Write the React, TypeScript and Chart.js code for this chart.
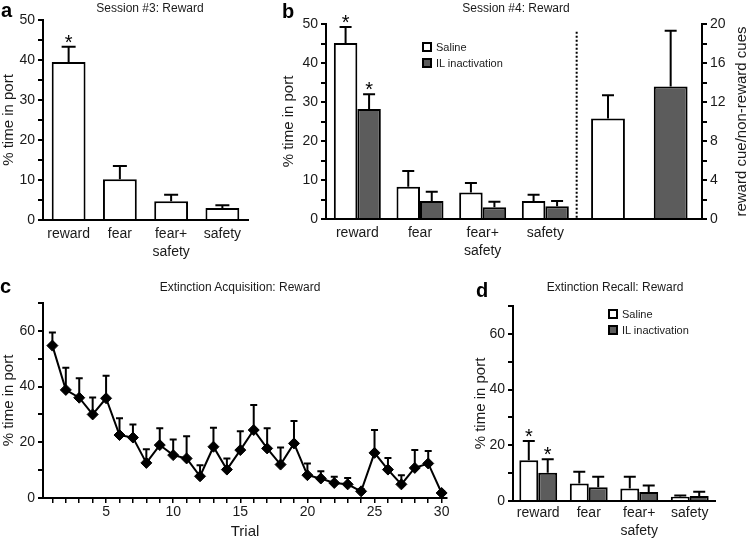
import React, { useEffect, useRef } from 'react';
import { Chart, registerables } from 'chart.js';

Chart.register(...registerables);

const FONT = '"Liberation Sans", Arial, Helvetica, sans-serif';
const INK = '#1a1a1a';
const IL_GREY = '#5c5c5c';

// ---------------- data ----------------
const cueCategories = ['reward', 'fear', ['fear+', 'safety'], 'safety'];

// a: Session #3
const session3Mean = [39.5, 10.2, 4.7, 3.0];
const session3Sem = [3.8, 3.3, 1.6, 0.7];
const session3Star = [true, false, false, false];

// b: Session #4
const session4SalineMean = [45.1, 8.3, 6.8, 4.6];
const session4SalineSem = [4.1, 4.0, 2.4, 1.6];
const session4SalineStar = [true, false, false, false];
const session4IlMean = [28.2, 4.6, 3.0, 3.3];
const session4IlSem = [3.8, 2.4, 1.4, 1.3];
const session4IlStar = [true, false, false, false];
// reward cue / non-reward cues ratio: [Saline, IL inactivation]
const cueRatioMean = [10.3, 13.6];
const cueRatioSem = [2.4, 5.7];

// c: Extinction acquisition
const trials = [1, 2, 3, 4, 5, 6, 7, 8, 9, 10, 11, 12, 13, 14, 15, 16, 17, 18, 19, 20, 21, 22, 23, 24, 25, 26, 27, 28, 29, 30];
const extinctionMean = [54.7, 38.8, 36.0, 30.0, 35.8, 22.6, 21.7, 12.6, 19.0, 15.4, 14.2, 7.8, 18.4, 10.2, 17.2, 24.4, 17.8, 12.0, 19.6, 8.2, 7.0, 5.4, 4.9, 2.4, 16.2, 10.2, 4.9, 10.8, 12.4, 1.8];
const extinctionSem = [4.7, 8.0, 7.0, 6.1, 8.1, 6.0, 4.7, 4.9, 6.0, 5.6, 8.0, 4.0, 6.8, 4.0, 6.8, 9.0, 7.2, 6.1, 8.0, 4.2, 2.6, 2.2, 2.3, 0.8, 8.2, 4.2, 3.3, 6.4, 4.5, 0.6];

// d: Extinction recall
const recallSalineMean = [14.6, 6.3, 4.5, 1.5];
const recallSalineSem = [6.9, 4.2, 4.2, 0.5];
const recallSalineStar = [true, false, false, false];
const recallIlMean = [10.1, 4.9, 3.2, 1.8];
const recallIlSem = [4.9, 3.8, 2.4, 1.5];
const recallIlStar = [true, false, false, false];

// ---------------- plugins ----------------
const errorBarPlugin = {
  id: 'errorBars',
  beforeDatasetsDraw(chart: any, _a: any, opts: any) {
    if (opts.under) drawErrors(chart, opts);
  },
  afterDatasetsDraw(chart: any, _a: any, opts: any) {
    if (!opts.under) drawErrors(chart, opts);
  },
};

function drawErrors(chart: any, opts: any) {
  const ctx = chart.ctx;
  chart.data.datasets.forEach((ds: any, i: number) => {
    const errs = ds.errors;
    if (!errs) return;
    const meta = chart.getDatasetMeta(i);
    const yScale = chart.scales[meta.yAxisID];
    meta.data.forEach((el: any, j: number) => {
      const e = errs[j];
      const parsed = meta.controller.getParsed(j);
      if (e == null || !parsed || parsed.y == null) return;
      const x = el.x;
      const y0 = yScale.getPixelForValue(parsed.y);
      const y1 = yScale.getPixelForValue(parsed.y + e);
      ctx.save();
      ctx.strokeStyle = '#000';
      ctx.lineWidth = 2;
      ctx.beginPath();
      ctx.moveTo(x, y0);
      ctx.lineTo(x, y1);
      ctx.moveTo(x - opts.cap / 2, y1);
      ctx.lineTo(x + opts.cap / 2, y1);
      ctx.stroke();
      if (ds.stars && ds.stars[j]) {
        ctx.fillStyle = '#000';
        ctx.font = `20px ${FONT}`;
        ctx.textAlign = 'center';
        ctx.textBaseline = 'alphabetic';
        ctx.fillText('*', x, y1 + 2);
      }
      ctx.restore();
    });
  });
}

const dividerPlugin = {
  id: 'divider',
  afterDatasetsDraw(chart: any, _a: any, opts: any) {
    if (opts.after == null) return;
    const xs = chart.scales.x;
    const ys = chart.scales.y;
    const px = (xs.getPixelForValue(opts.after) + xs.getPixelForValue(opts.after + 1)) / 2;
    const ctx = chart.ctx;
    ctx.save();
    ctx.strokeStyle = '#000';
    ctx.lineWidth = 2;
    ctx.setLineDash([2, 2]);
    ctx.beginPath();
    ctx.moveTo(px, ys.getPixelForValue(opts.top));
    ctx.lineTo(px, chart.chartArea.bottom);
    ctx.stroke();
    ctx.restore();
  },
};

// right-hand axis title, reading bottom-to-top like the left one
const sideTitlePlugin = {
  id: 'sideTitle',
  afterDraw(chart: any, _a: any, opts: any) {
    if (!opts.text) return;
    const sc = chart.scales[opts.scale];
    const area = chart.chartArea;
    const ctx = chart.ctx;
    ctx.save();
    ctx.translate(sc.right - opts.inset, (area.top + area.bottom) / 2);
    ctx.rotate(-Math.PI / 2);
    ctx.fillStyle = INK;
    ctx.font = `15px ${FONT}`;
    ctx.textAlign = 'center';
    ctx.textBaseline = 'middle';
    ctx.fillText(opts.text, 0, 0);
    ctx.restore();
  },
};

// ---------------- config helpers ----------------
const tickFont = { family: FONT, size: 14 };
const titleFont = { family: FONT, size: 15 };

function valueAxis(o: any) {
  return {
    type: 'linear',
    position: o.position || 'left',
    min: o.min,
    max: o.max,
    ticks: {
      stepSize: o.step,
      autoSkip: false,
      color: INK,
      font: tickFont,
      padding: 3,
      callback: (v: number) => (Math.abs(v % o.every) < 1e-6 ? String(v) : ''),
    },
    grid: { drawOnChartArea: false, drawTicks: true, tickLength: 5, color: '#000', lineWidth: 2 },
    border: { display: true, color: '#000', width: 2 },
    title: {
      display: !!o.title,
      text: o.title || '',
      color: INK,
      font: titleFont,
      padding: { top: o.titlePad || 0, bottom: 0 },
    },
    afterFit: (s: any) => {
      s.width = o.width;
    },
  };
}

function categoryAxis(height: number, pad: number) {
  return {
    type: 'category',
    grid: { display: false },
    border: { display: true, color: '#000', width: 2 },
    ticks: {
      autoSkip: false,
      maxRotation: 0,
      minRotation: 0,
      color: INK,
      font: { ...tickFont, lineHeight: 1.3 },
      padding: pad,
    },
    afterFit: (s: any) => {
      s.height = height;
    },
  };
}

function barSet(label: string, data: any[], sem: any[], stars: any[], fill: string, cat: number, bar: number, extra: any = {}) {
  return {
    label,
    data,
    errors: sem,
    stars,
    backgroundColor: fill,
    borderColor: '#000',
    borderWidth: 2,
    categoryPercentage: cat,
    barPercentage: bar,
    ...extra,
  };
}

function baseOptions(padding: any, cap: number, extraPlugins: any = {}) {
  return {
    responsive: false,
    animation: false,
    devicePixelRatio: 1,
    events: [],
    layout: { padding },
    plugins: {
      legend: { display: false },
      tooltip: { enabled: false },
      title: { display: false },
      errorBars: { cap },
      ...extraPlugins,
    },
  };
}

const nulls = (n: number) => Array.from({ length: n }, () => null);

// ---------------- chart configs ----------------
function configA() {
  return {
    type: 'bar',
    data: {
      labels: cueCategories,
      datasets: [barSet('Session #3', session3Mean, session3Sem, session3Star, '#ffffff', 0.66, 1)],
    },
    options: {
      ...baseOptions({ top: 20, right: 2, left: 0, bottom: 0 }, 14),
      scales: {
        x: categoryAxis(40, -3),
        y: valueAxis({ min: 0, max: 50, step: 5, every: 10, width: 43, title: '% time in port' }),
      },
    },
    plugins: [errorBarPlugin],
  };
}

function configB() {
  const labels = [...cueCategories, '', ''];
  return {
    type: 'bar',
    data: {
      labels,
      datasets: [
        barSet('Saline', [...session4SalineMean, null, null], [...session4SalineSem, null, null], session4SalineStar, '#ffffff', 0.75, 1, { skipNull: true }),
        barSet('IL inactivation', [...session4IlMean, null, null], [...session4IlSem, null, null], session4IlStar, IL_GREY, 0.75, 1, { skipNull: true }),
        barSet('Saline ratio', [...nulls(4), cueRatioMean[0], null], [...nulls(4), cueRatioSem[0], null], [], '#ffffff', 0.75, 0.72, { skipNull: true, yAxisID: 'y2' }),
        barSet('IL ratio', [...nulls(5), cueRatioMean[1]], [...nulls(5), cueRatioSem[1]], [], IL_GREY, 0.75, 0.72, { skipNull: true, yAxisID: 'y2' }),
      ],
    },
    options: {
      ...baseOptions({ top: 24, right: 0, left: 0, bottom: 0 }, 12, {
        divider: { after: 3, top: 48 },
        sideTitle: { scale: 'y2', text: 'reward cue/non-reward cues', inset: 6 },
      }),
      scales: {
        x: categoryAxis(41, -3),
        y: valueAxis({ min: 0, max: 50, step: 5, every: 10, width: 46, title: '% time in port' }),
        y2: valueAxis({ min: 0, max: 20, step: 2, every: 4, width: 46, title: '', position: 'right' }),
      },
    },
    plugins: [errorBarPlugin, dividerPlugin, sideTitlePlugin],
  };
}

function configC() {
  return {
    type: 'line',
    data: {
      datasets: [
        {
          label: 'Extinction acquisition',
          data: trials.map((t, i) => ({ x: t, y: extinctionMean[i] })),
          errors: extinctionSem,
          borderColor: '#000',
          borderWidth: 2,
          backgroundColor: '#000',
          pointStyle: 'rectRot',
          pointRadius: 5.5,
          pointBackgroundColor: '#000',
          pointBorderColor: '#000',
          pointBorderWidth: 1,
          tension: 0,
          clip: false,
        },
      ],
    },
    options: {
      ...baseOptions({ top: 23, right: 13, left: 0, bottom: 0 }, 7, {}),
      plugins: {
        legend: { display: false },
        tooltip: { enabled: false },
        errorBars: { cap: 7, under: true },
      },
      scales: {
        x: {
          type: 'linear',
          min: 0.3,
          max: 30.4,
          ticks: {
            stepSize: 1,
            autoSkip: false,
            includeBounds: false,
            maxRotation: 0,
            color: INK,
            font: tickFont,
            padding: 1,
            callback: (v: number) => (v % 5 === 0 ? String(v) : ''),
          },
          grid: { drawOnChartArea: false, drawTicks: true, tickLength: 5, color: '#000', lineWidth: 1.5 },
          border: { display: true, color: '#000', width: 2 },
          title: { display: true, text: 'Trial', color: INK, font: titleFont, padding: { top: 0, bottom: -3 } },
          afterFit: (s: any) => {
            s.height = 40;
          },
        },
        y: valueAxis({ min: 0, max: 70, step: 10, every: 20, width: 43, title: '% time in port' }),
      },
    },
    plugins: [errorBarPlugin],
  };
}

function configD() {
  return {
    type: 'bar',
    data: {
      labels: cueCategories,
      datasets: [
        barSet('Saline', recallSalineMean, recallSalineSem, recallSalineStar, '#ffffff', 0.75, 1),
        barSet('IL inactivation', recallIlMean, recallIlSem, recallIlStar, IL_GREY, 0.75, 1),
      ],
    },
    options: {
      ...baseOptions({ top: 26, right: 33, left: 0, bottom: 0 }, 12),
      scales: {
        x: categoryAxis(37, -5),
        y: valueAxis({ min: 0, max: 70, step: 10, every: 20, width: 43, title: '% time in port', titlePad: 2 }),
      },
    },
    plugins: [errorBarPlugin],
  };
}

// ---------------- components ----------------
function ChartCanvas({ left, top, width, height, make }: any) {
  const ref = useRef<HTMLCanvasElement>(null);
  useEffect(() => {
    const chart = new Chart(ref.current as HTMLCanvasElement, make() as any);
    return () => chart.destroy();
  }, []);
  return (
    <canvas
      ref={ref}
      width={width}
      height={height}
      style={{ position: 'absolute', left, top, width, height }}
    />
  );
}

function Title({ cx, cy, text }: any) {
  return (
    <div
      style={{
        position: 'absolute',
        left: cx,
        top: cy,
        transform: 'translate(-50%, -50%)',
        font: `12px ${FONT}`,
        color: INK,
        whiteSpace: 'nowrap',
        lineHeight: '14px',
      }}
    >
      {text}
    </div>
  );
}

function Letter({ left, top, text }: any) {
  return (
    <div
      style={{
        position: 'absolute',
        left,
        top,
        font: `bold 20px ${FONT}`,
        lineHeight: '20px',
        color: '#000',
      }}
    >
      {text}
    </div>
  );
}

function Legend({ left, top }: any) {
  const items = [
    { label: 'Saline', fill: '#ffffff' },
    { label: 'IL inactivation', fill: IL_GREY },
  ];
  return (
    <div style={{ position: 'absolute', left, top }}>
      {items.map((it, i) => (
        <div key={i} style={{ position: 'absolute', left: 0, top: i * 16, height: 12, whiteSpace: 'nowrap' }}>
          <div
            style={{
              position: 'absolute',
              left: 0,
              top: 1,
              width: 10,
              height: 10,
              boxSizing: 'border-box',
              border: '2px solid #000',
              background: it.fill,
            }}
          />
          <div
            style={{
              position: 'absolute',
              left: 14,
              top: 0,
              font: `11px ${FONT}`,
              lineHeight: '12px',
              color: INK,
            }}
          >
            {it.label}
          </div>
        </div>
      ))}
    </div>
  );
}

export default function App() {
  return (
    <div style={{ position: 'absolute', left: 0, top: 0, width: 748, height: 538, background: '#fff', overflow: 'hidden' }}>
      <ChartCanvas left={0} top={0} width={250} height={260} make={configA} />
      <ChartCanvas left={280} top={0} width={468} height={260} make={configB} />
      <ChartCanvas left={0} top={280} width={460} height={258} make={configC} />
      <ChartCanvas left={470} top={280} width={278} height={258} make={configD} />

      <Title cx={150} cy={8} text="Session #3: Reward" />
      <Title cx={516} cy={8} text="Session #4: Reward" />
      <Title cx={240} cy={287} text="Extinction Acquisition: Reward" />
      <Title cx={615} cy={287} text="Extinction Recall: Reward" />

      <Letter left={1} top={0} text="a" />
      <Letter left={282} top={1} text="b" />
      <Letter left={0} top={276} text="c" />
      <Letter left={476} top={280} text="d" />

      <Legend left={422} top={41} />
      <Legend left={608} top={308} />
    </div>
  );
}
